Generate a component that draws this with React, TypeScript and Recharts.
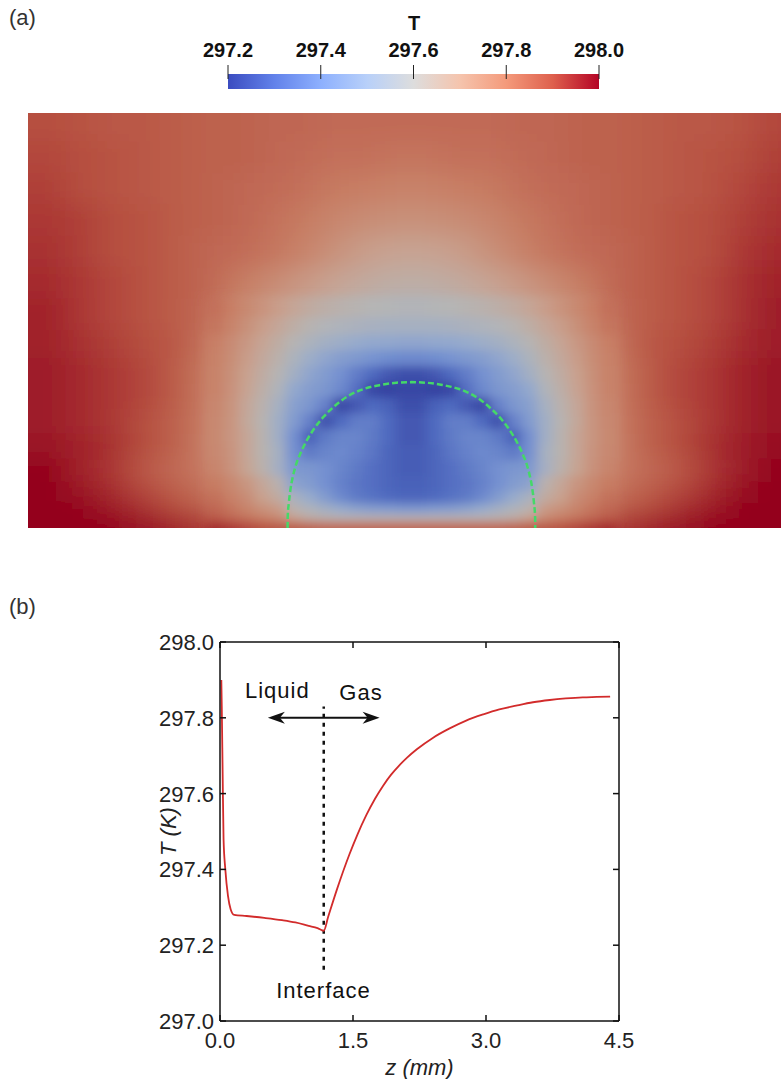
import {
  ComposedChart,
  Line,
  ReferenceArea,
  ReferenceDot,
  ReferenceLine,
  Scatter,
  ScatterChart,
  XAxis,
  YAxis,
  Label,
} from "recharts";

const FONT = '"Liberation Sans", Arial, Helvetica, sans-serif';

// colour map of panel (a): ParaView "cool to warm"
const cmapT = [297.2, 297.3, 297.4, 297.5, 297.6, 297.7, 297.8, 297.9, 298.0];
const cmapRGB = [
  [59, 76, 192],
  [98, 130, 234],
  [141, 176, 254],
  [184, 208, 249],
  [221, 221, 221],
  [245, 196, 173],
  [244, 154, 123],
  [222, 96, 77],
  [180, 4, 38],
];
const barTicks = [297.2, 297.4, 297.6, 297.8, 298.0];

// temperature field of panel (a), coarse over the whole frame; x, z in mm, T in K
const colX = [
  -2.875, -2.625, -2.375, -2.125, -1.875, -1.625, -1.375, -1.125, -0.875, -0.625, -0.375, -0.125,
  0.125, 0.375, 0.625, 0.875, 1.125, 1.375, 1.625, 1.875, 2.125, 2.375, 2.625, 2.875,
];
const rowZ = [3.2, 2.95, 2.7, 2.45, 2.2, 1.95, 1.7, 1.45, 1.25, 1.05, 0.85, 0.65, 0.45, 0.28, 0.14, 0.04];
const fieldT = [
  [297.90, 297.89, 297.88, 297.88, 297.87, 297.86, 297.86, 297.85, 297.85, 297.84, 297.84, 297.84, 297.84, 297.84, 297.84, 297.85, 297.85, 297.86, 297.86, 297.87, 297.88, 297.88, 297.89, 297.91],
  [297.91, 297.90, 297.89, 297.88, 297.87, 297.86, 297.86, 297.85, 297.84, 297.83, 297.83, 297.82, 297.82, 297.83, 297.83, 297.84, 297.85, 297.86, 297.86, 297.87, 297.88, 297.89, 297.90, 297.92],
  [297.92, 297.90, 297.89, 297.88, 297.87, 297.86, 297.85, 297.84, 297.83, 297.81, 297.80, 297.79, 297.79, 297.80, 297.81, 297.83, 297.84, 297.85, 297.86, 297.87, 297.88, 297.89, 297.91, 297.93],
  [297.93, 297.92, 297.90, 297.89, 297.87, 297.86, 297.85, 297.83, 297.81, 297.78, 297.76, 297.75, 297.75, 297.76, 297.78, 297.81, 297.83, 297.85, 297.86, 297.87, 297.89, 297.90, 297.92, 297.94],
  [297.94, 297.92, 297.90, 297.89, 297.87, 297.85, 297.84, 297.82, 297.79, 297.75, 297.71, 297.69, 297.69, 297.71, 297.75, 297.79, 297.82, 297.84, 297.85, 297.87, 297.89, 297.90, 297.93, 297.95],
  [297.95, 297.93, 297.91, 297.89, 297.87, 297.85, 297.81, 297.77, 297.73, 297.69, 297.66, 297.64, 297.64, 297.66, 297.69, 297.73, 297.77, 297.81, 297.85, 297.87, 297.89, 297.91, 297.94, 297.96],
  [297.96, 297.93, 297.91, 297.89, 297.87, 297.84, 297.77, 297.72, 297.67, 297.63, 297.60, 297.58, 297.58, 297.60, 297.63, 297.67, 297.72, 297.77, 297.84, 297.87, 297.89, 297.91, 297.94, 297.97],
  [297.96, 297.94, 297.92, 297.90, 297.88, 297.82, 297.75, 297.67, 297.59, 297.52, 297.50, 297.48, 297.48, 297.50, 297.52, 297.59, 297.67, 297.75, 297.82, 297.88, 297.90, 297.92, 297.95, 297.97],
  [297.97, 297.95, 297.93, 297.91, 297.87, 297.81, 297.72, 297.63, 297.52, 297.42, 297.34, 297.26, 297.26, 297.34, 297.42, 297.52, 297.63, 297.72, 297.81, 297.87, 297.91, 297.93, 297.96, 297.98],
  [297.97, 297.95, 297.93, 297.91, 297.87, 297.805, 297.705, 297.60, 297.47, 297.30, 297.23, 297.22, 297.22, 297.23, 297.30, 297.47, 297.60, 297.705, 297.805, 297.87, 297.91, 297.93, 297.96, 297.98],
  [297.97, 297.95, 297.93, 297.90, 297.86, 297.80, 297.70, 297.58, 297.38, 297.30, 297.31, 297.26, 297.26, 297.31, 297.30, 297.38, 297.58, 297.70, 297.80, 297.86, 297.90, 297.93, 297.96, 297.98],
  [297.98, 297.96, 297.94, 297.90, 297.86, 297.795, 297.71, 297.575, 297.38, 297.36, 297.32, 297.27, 297.27, 297.32, 297.36, 297.38, 297.575, 297.71, 297.795, 297.86, 297.90, 297.94, 297.97, 297.99],
  [298.00, 297.96, 297.93, 297.88, 297.84, 297.805, 297.73, 297.60, 297.43, 297.38, 297.33, 297.28, 297.28, 297.33, 297.38, 297.43, 297.60, 297.73, 297.805, 297.84, 297.88, 297.93, 297.97, 298.00],
  [298.01, 297.98, 297.95, 297.91, 297.87, 297.83, 297.765, 297.66, 297.50, 297.38, 297.33, 297.29, 297.29, 297.33, 297.38, 297.50, 297.66, 297.765, 297.83, 297.87, 297.91, 297.95, 297.99, 298.01],
  [298.02, 298.00, 297.97, 297.94, 297.90, 297.86, 297.80, 297.74, 297.62, 297.52, 297.45, 297.43, 297.43, 297.45, 297.52, 297.62, 297.74, 297.80, 297.86, 297.90, 297.94, 297.97, 298.00, 298.02],
  [298.04, 298.02, 298.00, 297.98, 297.96, 297.93, 297.90, 297.87, 297.80, 297.72, 297.68, 297.67, 297.67, 297.68, 297.72, 297.80, 297.87, 297.90, 297.93, 297.96, 297.98, 298.00, 298.02, 298.04],
];

// finer samples around the drop
const fineX = [
  -1.5625, -1.4375, -1.3125, -1.1875, -1.0625, -0.9375, -0.8125, -0.6875, -0.5625, -0.4375, -0.3125, -0.1875, -0.0625,
  0.0625, 0.1875, 0.3125, 0.4375, 0.5625, 0.6875, 0.8125, 0.9375, 1.0625, 1.1875, 1.3125, 1.4375, 1.5625,
];
const fineZ = [1.75, 1.6, 1.475, 1.35, 1.225, 1.1, 0.975, 0.85, 0.725, 0.6, 0.475, 0.35, 0.24, 0.15, 0.07, 0.02];
const fineT = [
  [297.83, 297.80, 297.77, 297.74, 297.71, 297.68, 297.655, 297.635, 297.62, 297.61, 297.60, 297.595, 297.59, 297.59, 297.595, 297.60, 297.61, 297.62, 297.635, 297.655, 297.68, 297.71, 297.74, 297.77, 297.80, 297.83],
  [297.82, 297.785, 297.75, 297.71, 297.675, 297.64, 297.61, 297.59, 297.575, 297.565, 297.555, 297.55, 297.55, 297.55, 297.55, 297.555, 297.565, 297.575, 297.59, 297.61, 297.64, 297.675, 297.71, 297.75, 297.785, 297.82],
  [297.80, 297.766, 297.727, 297.685, 297.647, 297.605, 297.57, 297.54, 297.52, 297.50, 297.49, 297.485, 297.48, 297.48, 297.485, 297.49, 297.50, 297.52, 297.54, 297.57, 297.605, 297.647, 297.685, 297.727, 297.766, 297.80],
  [297.793, 297.757, 297.713, 297.667, 297.625, 297.57, 297.52, 297.48, 297.45, 297.43, 297.41, 297.39, 297.38, 297.38, 297.39, 297.41, 297.43, 297.45, 297.48, 297.52, 297.57, 297.625, 297.667, 297.713, 297.757, 297.793],
  [297.79, 297.75, 297.70, 297.65, 297.605, 297.54, 297.48, 297.44, 297.40, 297.35, 297.30, 297.26, 297.24, 297.24, 297.26, 297.30, 297.35, 297.40, 297.44, 297.48, 297.54, 297.605, 297.65, 297.70, 297.75, 297.79],
  [297.79, 297.745, 297.69, 297.635, 297.58, 297.49, 297.45, 297.42, 297.38, 297.31, 297.22, 297.21, 297.22, 297.22, 297.21, 297.22, 297.31, 297.38, 297.42, 297.45, 297.49, 297.58, 297.635, 297.69, 297.745, 297.79],
  [297.78, 297.74, 297.675, 297.62, 297.55, 297.46, 297.42, 297.36, 297.22, 297.26, 297.30, 297.28, 297.24, 297.24, 297.28, 297.30, 297.26, 297.22, 297.36, 297.42, 297.46, 297.55, 297.62, 297.675, 297.74, 297.78],
  [297.775, 297.737, 297.67, 297.61, 297.53, 297.44, 297.36, 297.24, 297.30, 297.35, 297.35, 297.30, 297.26, 297.26, 297.30, 297.35, 297.35, 297.30, 297.24, 297.36, 297.44, 297.53, 297.61, 297.67, 297.737, 297.775],
  [297.772, 297.735, 297.68, 297.615, 297.53, 297.40, 297.28, 297.34, 297.37, 297.37, 297.34, 297.30, 297.26, 297.26, 297.30, 297.34, 297.37, 297.37, 297.34, 297.28, 297.40, 297.53, 297.615, 297.68, 297.735, 297.772],
  [297.775, 297.739, 297.68, 297.615, 297.55, 297.40, 297.34, 297.37, 297.38, 297.36, 297.33, 297.29, 297.27, 297.27, 297.29, 297.33, 297.36, 297.38, 297.37, 297.34, 297.40, 297.55, 297.615, 297.68, 297.739, 297.775],
  [297.783, 297.746, 297.686, 297.626, 297.545, 297.43, 297.42, 297.40, 297.37, 297.34, 297.31, 297.29, 297.27, 297.27, 297.29, 297.31, 297.34, 297.37, 297.40, 297.42, 297.43, 297.545, 297.626, 297.686, 297.746, 297.783],
  [297.807, 297.773, 297.735, 297.675, 297.62, 297.47, 297.44, 297.40, 297.36, 297.33, 297.31, 297.29, 297.28, 297.28, 297.29, 297.31, 297.33, 297.36, 297.40, 297.44, 297.47, 297.62, 297.675, 297.735, 297.773, 297.807],
  [297.828, 297.795, 297.759, 297.70, 297.655, 297.56, 297.50, 297.44, 297.38, 297.34, 297.32, 297.30, 297.29, 297.29, 297.30, 297.32, 297.34, 297.38, 297.44, 297.50, 297.56, 297.655, 297.70, 297.759, 297.795, 297.828],
  [297.85, 297.82, 297.785, 297.75, 297.72, 297.62, 297.58, 297.54, 297.50, 297.47, 297.45, 297.44, 297.43, 297.43, 297.44, 297.45, 297.47, 297.50, 297.54, 297.58, 297.62, 297.72, 297.75, 297.785, 297.82, 297.85],
  [297.88, 297.85, 297.826, 297.80, 297.77, 297.70, 297.65, 297.63, 297.62, 297.62, 297.62, 297.62, 297.62, 297.62, 297.62, 297.62, 297.62, 297.62, 297.63, 297.65, 297.70, 297.77, 297.80, 297.826, 297.85, 297.88],
  [297.95, 297.93, 297.91, 297.89, 297.88, 297.87, 297.86, 297.85, 297.85, 297.85, 297.85, 297.85, 297.85, 297.85, 297.85, 297.85, 297.85, 297.85, 297.85, 297.86, 297.87, 297.88, 297.89, 297.91, 297.93, 297.95],
];

// liquid/gas interface (green dashed), mm
const arcX = [
  -0.985, -0.984, -0.975, -0.963, -0.945, -0.923, -0.88, -0.83, -0.77, -0.698, -0.61, -0.512, -0.38, -0.247, -0.12, 0,
  0.12, 0.247, 0.38, 0.512, 0.61, 0.698, 0.77, 0.83, 0.88, 0.923, 0.945, 0.963, 0.975, 0.984, 0.985,
];
const arcZ = [
  0, 0.09, 0.2, 0.302, 0.4, 0.487, 0.6, 0.7, 0.795, 0.885, 0.97, 1.044, 1.105, 1.137, 1.155, 1.16,
  1.155, 1.137, 1.105, 1.044, 0.97, 0.885, 0.795, 0.7, 0.6, 0.487, 0.4, 0.302, 0.2, 0.09, 0,
];

// panel (b): T along z
const zMm = [
  0.015, 0.02, 0.03, 0.04, 0.06, 0.09, 0.12, 0.16, 0.3, 0.5, 0.7, 0.85, 1.0, 1.1, 1.17,
  1.22, 1.32, 1.46, 1.55, 1.65, 1.75, 1.84, 1.93, 2.02, 2.11, 2.22, 2.4, 2.59, 2.77, 2.97, 3.15, 3.34, 3.53, 3.72, 3.9, 4.09, 4.25, 4.4,
];
const tK = [
  297.9, 297.83, 297.65, 297.48, 297.4, 297.33, 297.295, 297.28, 297.277, 297.272, 297.266, 297.26, 297.251, 297.245, 297.238,
  297.275, 297.348, 297.44, 297.492, 297.543, 297.587, 297.621, 297.65, 297.674, 297.695, 297.717, 297.747, 297.772, 297.792, 297.809, 297.822, 297.832, 297.841, 297.847, 297.851, 297.854, 297.855, 297.856,
];
const zTicks = [0, 1.5, 3.0, 4.5];
const tTicks = [297.0, 297.2, 297.4, 297.6, 297.8, 298.0];
const interfaceZ = 1.17;

// heat map frame
const HEAT_W = 753;
const HEAT_H = 415;
const X_MIN = -3.05;
const X_MAX = 2.94;
const Z_MAX = 3.3;
const KX = HEAT_W / (X_MAX - X_MIN);
const KY = HEAT_H / Z_MAX;
const SHADE = 0.82;

function cmap(T: number, shade = 1) {
  const t = Math.min(Math.max(T, cmapT[0]), cmapT[cmapT.length - 1]);
  let k = 0;
  while (k < cmapT.length - 2 && t > cmapT[k + 1]) k++;
  const f = (t - cmapT[k]) / (cmapT[k + 1] - cmapT[k]);
  const c = cmapRGB[k].map((v, i) => Math.round((v + (cmapRGB[k + 1][i] - v) * f) * shade));
  return `rgb(${c.join(",")})`;
}

// cell extents: half way to the neighbours, padded at the outer edges
function buildCells(xs: number[], zs: number[], grid: number[][], padSide: number, padTop: number, padBottom: number) {
  return grid.flatMap((row, i) =>
    row.map((T, j) => ({
      x: xs[j],
      z: zs[i],
      T,
      x0: j === 0 ? xs[j] - padSide : (xs[j - 1] + xs[j]) / 2,
      x1: j === xs.length - 1 ? xs[j] + padSide : (xs[j] + xs[j + 1]) / 2,
      z0: i === zs.length - 1 ? zs[i] - padBottom : (zs[i] + zs[i + 1]) / 2,
      z1: i === 0 ? zs[i] + padTop : (zs[i - 1] + zs[i]) / 2,
    }))
  );
}
const coarseCells = buildCells(colX, rowZ, fieldT, 0.5, 0.5, 0.5);
const fineCells = buildCells(fineX, fineZ, fineT, 0.0625, 0.075, 0.3);
const arc = arcX.map((x, i) => ({ x, z: arcZ[i] }));
const curve = zMm.map((z, i) => ({ z, T: tK[i] }));

const HeatCell = (p: any) => {
  const { cx, cy, payload } = p;
  return (
    <rect
      x={cx - (payload.x - payload.x0) * KX}
      y={cy - (payload.z1 - payload.z) * KY}
      width={(payload.x1 - payload.x0) * KX + 0.8}
      height={(payload.z1 - payload.z0) * KY + 0.8}
      fill={cmap(payload.T, SHADE)}
    />
  );
};

const BarTick = ({ x, y, payload }: any) => (
  <g>
    <line x1={x} x2={x} y1={y - 9} y2={y + 5} stroke="#222" strokeWidth={1} />
    <text x={x} y={y - 17} textAnchor="middle" fontSize={20} fontWeight="bold" fill="#111" fontFamily={FONT}>
      {payload.value.toFixed(1)}
    </text>
  </g>
);

const BottomTick = ({ x, y, payload }: any) => (
  <g>
    <line x1={x} x2={x} y1={y} y2={y - 6} stroke="#111" strokeWidth={1.5} />
    <text x={x} y={y + 27} textAnchor="middle" fontSize={22} fill="#222" fontFamily={FONT}>
      {payload.value.toFixed(1)}
    </text>
  </g>
);
const TopTick = ({ x, y }: any) => <line x1={x} x2={x} y1={y} y2={y + 6} stroke="#111" strokeWidth={1.5} />;
const LeftTick = ({ x, y, payload }: any) => (
  <g>
    <line x1={x} x2={x + 6} y1={y} y2={y} stroke="#111" strokeWidth={1.5} />
    <text x={x - 6} y={y + 8} textAnchor="end" fontSize={22} fill="#222" fontFamily={FONT}>
      {payload.value.toFixed(1)}
    </text>
  </g>
);
const RightTick = ({ x, y }: any) => <line x1={x} x2={x - 6} y1={y} y2={y} stroke="#111" strokeWidth={1.5} />;

const Arrow = (p: any) => {
  const { x1, y1, x2, y2 } = p;
  const y = (y1 + y2) / 2;
  const l = Math.min(x1, x2);
  const r = Math.max(x1, x2);
  return (
    <g>
      <line x1={l + 10} x2={r - 10} y1={y} y2={y} stroke="#111" strokeWidth={2} />
      <polygon points={`${l},${y} ${l + 17},${y - 6} ${l + 12},${y} ${l + 17},${y + 6}`} fill="#111" />
      <polygon points={`${r},${y} ${r - 17},${y - 6} ${r - 12},${y} ${r - 17},${y + 6}`} fill="#111" />
    </g>
  );
};

const YTitle = ({ viewBox }: any) => {
  const x = viewBox.x + 16;
  const y = viewBox.y + viewBox.height / 2;
  return (
    <text x={x} y={y} transform={`rotate(-90 ${x} ${y})`} textAnchor="middle" fontSize={22} fontStyle="italic" fill="#222" fontFamily={FONT}>
      T (K)
    </text>
  );
};

const axisStroke = { stroke: "#111", strokeWidth: 1.5 };
const noteLabel = (value: string) => ({
  value,
  position: "center" as const,
  fontSize: 22,
  fill: "#111",
  fontFamily: FONT,
  letterSpacing: 1,
});

export default function App() {
  return (
    <div style={{ position: "absolute", left: 0, top: 0, width: 781, height: 1079, background: "#fff", overflow: "hidden", fontFamily: FONT }}>
      <style>{`.heat-coarse { filter: url(#blurCoarse); } .heat-fine { filter: url(#blurFine); }`}</style>

      <div style={{ position: "absolute", left: 9, top: 6, fontSize: 22, lineHeight: "24px", color: "#333" }}>(a)</div>
      <div style={{ position: "absolute", left: 400, top: 12, width: 28, textAlign: "center", fontSize: 20, fontWeight: "bold", lineHeight: "22px", color: "#111" }}>T</div>

      <div style={{ position: "absolute", left: 200, top: 0 }}>
        <ComposedChart width={430} height={100} data={barTicks.map((v) => ({ v, y: 0.5 }))} margin={{ top: 73, right: 31, bottom: 11, left: 28 }}>
          <defs>
            <linearGradient id="cbGrad" x1="0" y1="0" x2="1" y2="0">
              {cmapT.map((t, i) => (
                <stop key={i} offset={(t - cmapT[0]) / (cmapT[cmapT.length - 1] - cmapT[0])} stopColor={cmap(t)} />
              ))}
            </linearGradient>
          </defs>
          <XAxis dataKey="v" type="number" orientation="top" domain={[297.2, 298.0]} ticks={barTicks} interval={0} height={1} tickSize={0} tickMargin={0} axisLine={false} tick={BarTick} />
          <YAxis hide dataKey="y" type="number" domain={[0, 1]} />
          <ReferenceArea x1={297.2} x2={298.0} y1={0} y2={1} fill="url(#cbGrad)" fillOpacity={1} stroke="none" ifOverflow="visible" />
          <Line dataKey="y" stroke="none" dot={false} activeDot={false} isAnimationActive={false} />
        </ComposedChart>
      </div>

      <div style={{ position: "absolute", left: 28, top: 113 }}>
        <ScatterChart width={HEAT_W} height={HEAT_H} margin={{ top: 0, right: 0, bottom: 0, left: 0 }}>
          <defs>
            <filter id="blurCoarse" x="-10%" y="-10%" width="120%" height="120%">
              <feGaussianBlur stdDeviation="15 11" />
            </filter>
            <filter id="blurFine" x="-10%" y="-10%" width="120%" height="120%">
              <feGaussianBlur stdDeviation="6 5" />
            </filter>
          </defs>
          <XAxis hide dataKey="x" type="number" domain={[X_MIN, X_MAX]} />
          <YAxis hide dataKey="z" type="number" domain={[0, Z_MAX]} />
          <Scatter className="heat-coarse" data={coarseCells} shape={HeatCell} isAnimationActive={false} />
          <Scatter className="heat-fine" data={fineCells} shape={HeatCell} isAnimationActive={false} />
          <Scatter
            data={arc}
            shape={() => <g />}
            line={{ stroke: "#45d868", strokeWidth: 2.5, strokeDasharray: "6 3" }}
            lineJointType="monotoneX"
            isAnimationActive={false}
          />
        </ScatterChart>
      </div>

      <div style={{ position: "absolute", left: 9, top: 595, fontSize: 22, lineHeight: "24px", color: "#333" }}>(b)</div>

      <div style={{ position: "absolute", left: 0, top: 600 }}>
        <ComposedChart width={700} height={479} data={curve} margin={{ top: 41, right: 80, bottom: 0, left: 160 }}>
          <XAxis dataKey="z" type="number" domain={[0, 4.5]} ticks={zTicks} interval={0} height={58} tickSize={0} tickMargin={0} axisLine={axisStroke} tick={BottomTick}>
            <Label value="z (mm)" position="insideBottom" offset={4} fontSize={22} fontStyle="italic" fill="#222" fontFamily={FONT} />
          </XAxis>
          <XAxis xAxisId="top" orientation="top" dataKey="z" type="number" domain={[0, 4.5]} ticks={zTicks} interval={0} height={1} tickSize={0} tickMargin={0} axisLine={axisStroke} tick={TopTick} />
          <YAxis dataKey="T" type="number" domain={[297.0, 298.0]} ticks={tTicks} interval={0} width={60} tickSize={0} tickMargin={0} axisLine={axisStroke} tick={LeftTick}>
            <Label content={YTitle} />
          </YAxis>
          <YAxis yAxisId="right" orientation="right" dataKey="T" type="number" domain={[297.0, 298.0]} ticks={tTicks} interval={0} width={1} tickSize={0} tickMargin={0} axisLine={axisStroke} tick={RightTick} />
          <ReferenceLine
            segment={[
              { x: interfaceZ, y: 297.135 },
              { x: interfaceZ, y: 297.83 },
            ]}
            stroke="#111"
            strokeWidth={2.5}
            strokeDasharray="4 5"
          />
          <ReferenceLine
            segment={[
              { x: 0.54, y: 297.8 },
              { x: 1.8, y: 297.8 },
            ]}
            shape={Arrow}
          />
          <Line dataKey="T" type="monotone" stroke="#d22b2b" strokeWidth={1.8} dot={false} activeDot={false} isAnimationActive={false} />
          <ReferenceDot x={0.646} y={297.872} r={0} fill="none" stroke="none" label={noteLabel("Liquid")} />
          <ReferenceDot x={1.59} y={297.867} r={0} fill="none" stroke="none" label={noteLabel("Gas")} />
          <ReferenceDot x={1.167} y={297.082} r={0} fill="none" stroke="none" label={noteLabel("Interface")} />
        </ComposedChart>
      </div>
    </div>
  );
}
